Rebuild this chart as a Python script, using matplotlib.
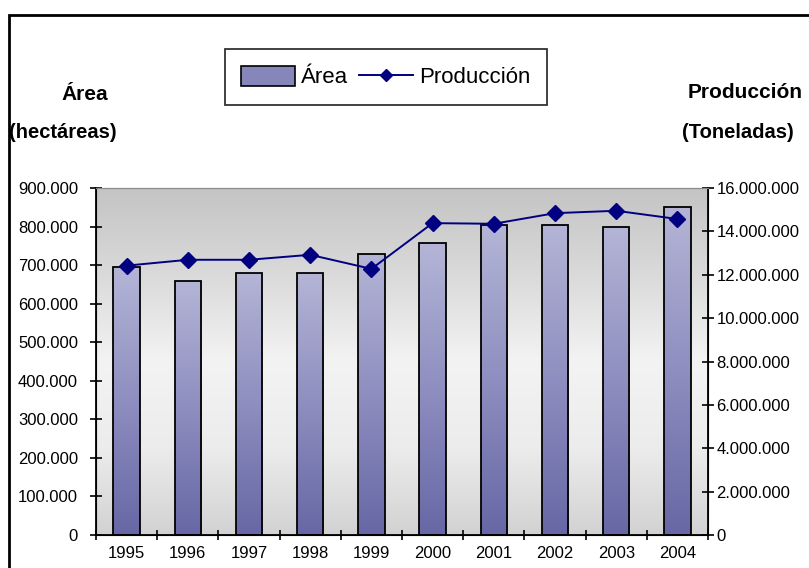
import numpy as np
import matplotlib.pyplot as plt
from matplotlib.patches import Rectangle, Patch
from matplotlib.lines import Line2D
from matplotlib.colors import LinearSegmentedColormap
from matplotlib.ticker import FuncFormatter, FixedLocator

# --- data ---
years = ['1995', '1996', '1997', '1998', '1999', '2000', '2001', '2002', '2003', '2004']
area = [696000, 660000, 680000, 680000, 730000, 757000, 805000, 805000, 800000, 850000]
produccion = [12420000, 12690000, 12690000, 12920000, 12270000,
              14380000, 14350000, 14840000, 14950000, 14570000]

plt.rcParams['font.family'] = ['Liberation Sans', 'DejaVu Sans']


def dots(v, pos=None):
    return f"{int(v):,}".replace(',', '.')


fig = plt.figure(figsize=(8.09, 5.68), dpi=100)
fig.patch.set_facecolor('white')
ax = fig.add_axes([96 / 809, 1 - 535 / 568, 612 / 809, 347 / 568])

# background gradient of the plot area (top -> bottom)
bg = LinearSegmentedColormap.from_list('bg', ['#c4c4c4', '#dadada', '#f3f3f3', '#ececec', '#d2d2d2'])
grad = np.linspace(0, 1, 256).reshape(-1, 1)
ax.imshow(grad, cmap=bg, aspect='auto', extent=[0, 1, 0, 1],
          transform=ax.transAxes, zorder=0)

x = np.arange(len(years))
bars = ax.bar(x, area, width=0.43, facecolor='none', edgecolor='black', linewidth=1.3, zorder=3)
barmap = LinearSegmentedColormap.from_list('bar', ['#b4b5d6', '#8e8ec0', '#6767a5'])
for b in bars:
    x0, y0 = b.get_x(), b.get_y()
    im = ax.imshow(grad, cmap=barmap, aspect='auto',
                   extent=[x0, x0 + b.get_width(), y0, y0 + b.get_height()], zorder=2)
    im.set_clip_path(b)

ax.set_xlim(-0.5, len(years) - 0.5)
ax.set_ylim(0, 900000)
ax.yaxis.set_major_locator(FixedLocator(np.arange(0, 900001, 100000)))
ax.yaxis.set_major_formatter(FuncFormatter(dots))
ax.set_xticks(x)
ax.set_xticklabels(years)
ax.tick_params(axis='x', length=0, pad=8, labelsize=12)
ax.set_xticks(np.arange(-0.5, len(years)), minor=True)
ax.tick_params(axis='x', which='minor', length=7, direction='inout', width=1.2)
ax.tick_params(axis='y', length=8, direction='inout', width=1.2, labelsize=12, pad=9)
for s in ['left', 'bottom']:
    ax.spines[s].set_linewidth(1.3)
ax.spines['top'].set_color('#8a8a8a')

ax2 = ax.twinx()
ax2.plot(x, produccion, color='#000080', marker='D', markersize=8, linewidth=1.4, zorder=5)
ax2.set_ylim(0, 16000000)
ax2.yaxis.set_major_locator(FixedLocator(np.arange(0, 16000001, 2000000)))
ax2.yaxis.set_major_formatter(FuncFormatter(dots))
ax2.tick_params(axis='y', length=8, direction='inout', width=1.2, labelsize=12, pad=2)
ax2.spines['right'].set_linewidth(1.3)
ax2.spines['top'].set_color('#8a8a8a')

# axis titles
fig.text(85 / 809, 1 - 94 / 568, 'Área', ha='center', va='center', fontsize=15, fontweight='bold')
fig.text(9 / 809, 1 - 132 / 568, '(hectáreas)', ha='left', va='center', fontsize=14.5, fontweight='bold')
fig.text(688 / 809, 1 - 92 / 568, 'Producción', ha='left', va='center', fontsize=15, fontweight='bold')
fig.text(682 / 809, 1 - 132 / 568, '(Toneladas)', ha='left', va='center', fontsize=14.5, fontweight='bold')

# legend
handles = [Patch(facecolor='#8686ba', edgecolor='black', linewidth=1.2),
           Line2D([], [], color='#000080', marker='D', markersize=6, linewidth=1.4)]
leg = fig.legend(handles, ['Área', 'Producción'], loc='center', ncol=2,
                 bbox_to_anchor=(386 / 809, 1 - 77 / 568), fontsize=16, frameon=True,
                 fancybox=False, edgecolor='black', handlelength=2.4, handleheight=1.0,
                 handletextpad=0.3, columnspacing=0.5, borderpad=0.75, borderaxespad=0)
leg.get_frame().set_linewidth(1.3)

# outer frame of the chart
fig.patches.append(Rectangle((9 / 809, -0.1), 1.2, 1.1 - 15 / 568, transform=fig.transFigure,
                             fill=False, edgecolor='black', linewidth=2))

fig.savefig('out.png', dpi=100)
